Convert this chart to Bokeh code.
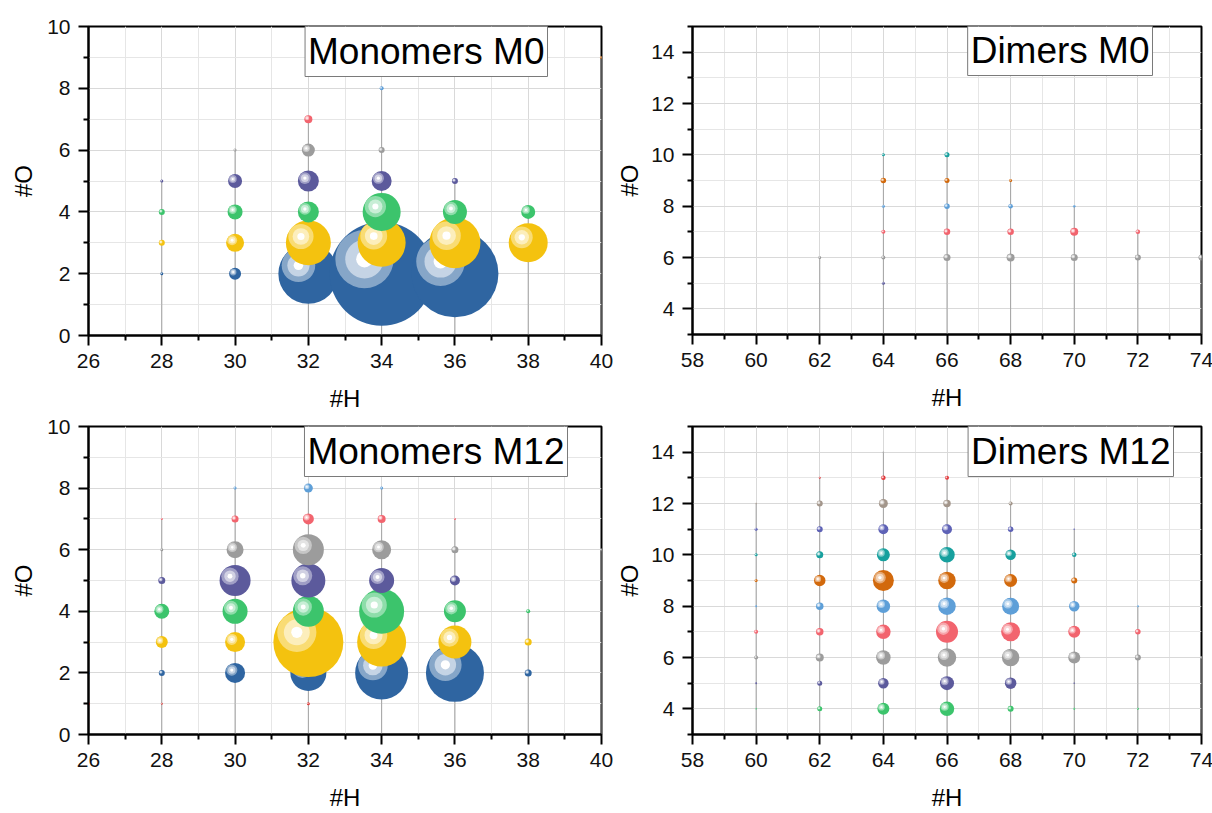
import numpy as np
from bokeh.plotting import figure
from bokeh.models import Label, Range1d, FixedTicker
from bokeh.layouts import gridplot
from bokeh.embed import file_html
from bokeh.resources import INLINE

# ---------------- data: #H, #O, relative signal (a.u.) ----------------
# Monomers M0
mono_m0_H = [28, 28, 28, 28,
             30, 30, 30, 30, 30,
             32, 32, 32, 32, 32, 32,
             34, 34, 34, 34, 34, 34,
             36, 36, 36, 36,
             38, 38,
             40]
mono_m0_O = [2, 3, 4, 5,
             2, 3, 4, 5, 6,
             2, 3, 4, 5, 6, 7,
             2, 3, 4, 5, 6, 8,
             2, 3, 4, 5,
             3, 4,
             9]
mono_m0_I = [0.3, 0.6, 0.6, 0.3,
             1.2, 1.8, 1.5, 1.4, 0.3,
             6.0, 4.5, 2.1, 2.1, 1.3, 0.8,
             10.4, 4.8, 3.8, 2.0, 0.6, 0.4,
             8.7, 5.1, 2.4, 0.6,
             3.9, 1.4,
             0.3]

# Dimers M0
dim_m0_H = [62,
            64, 64, 64, 64, 64, 64,
            66, 66, 66, 66, 66,
            68, 68, 68, 68,
            70, 70, 70,
            72, 72,
            74]
dim_m0_O = [6,
            5, 6, 7, 8, 9, 10,
            6, 7, 8, 9, 10,
            6, 7, 8, 9,
            6, 7, 8,
            6, 7,
            6]
dim_m0_I = [0.3,
            0.3, 0.4, 0.4, 0.3, 0.55, 0.3,
            0.7, 0.65, 0.55, 0.5, 0.5,
            0.8, 0.65, 0.45, 0.3,
            0.7, 0.8, 0.25,
            0.6, 0.45,
            0.6]

# Monomers M12
mono_m12_H = [26, 26, 26, 26,
              28, 28, 28, 28, 28, 28, 28,
              30, 30, 30, 30, 30, 30, 30,
              32, 32, 32, 32, 32, 32, 32, 32,
              34, 34, 34, 34, 34, 34, 34,
              36, 36, 36, 36, 36, 36,
              38, 38, 38,
              40]
mono_m12_O = [1, 2, 3, 4,
              1, 2, 3, 4, 5, 6, 7,
              2, 3, 4, 5, 6, 7, 8,
              1, 2, 3, 4, 5, 6, 7, 8,
              2, 3, 4, 5, 6, 7, 8,
              2, 3, 4, 5, 6, 7,
              2, 3, 4,
              6]
mono_m12_I = [0.3, 0.3, 0.3, 0.3,
              0.2, 0.6, 1.2, 1.5, 0.7, 0.3, 0.2,
              2.0, 2.0, 2.5, 3.1, 1.7, 0.7, 0.3,
              0.3, 3.6, 7.0, 3.1, 3.4, 3.1, 1.1, 0.9,
              5.3, 4.9, 4.5, 2.5, 1.9, 0.8, 0.3,
              5.8, 3.3, 2.2, 1.0, 0.7, 0.2,
              0.7, 0.7, 0.4,
              0.3]

# Dimers M12
dim_m12_H = [60, 60, 60, 60, 60, 60, 60, 60, 60,
             62, 62, 62, 62, 62, 62, 62, 62, 62, 62,
             64, 64, 64, 64, 64, 64, 64, 64, 64, 64, 64,
             66, 66, 66, 66, 66, 66, 66, 66, 66, 66,
             68, 68, 68, 68, 68, 68, 68, 68, 68,
             70, 70, 70, 70, 70, 70, 70, 70,
             72, 72, 72, 72,
             74]
dim_m12_O = [4, 5, 6, 7, 8, 9, 10, 11, 12,
             4, 5, 6, 7, 8, 9, 10, 11, 12, 13,
             4, 5, 6, 7, 8, 9, 10, 11, 12, 13, 14,
             4, 5, 6, 7, 8, 9, 10, 11, 12, 13,
             4, 5, 6, 7, 8, 9, 10, 11, 12,
             4, 5, 6, 7, 8, 9, 10, 11,
             4, 6, 7, 8,
             6]
dim_m12_I = [0.15, 0.2, 0.4, 0.4, 0.2, 0.3, 0.3, 0.3, 0.15,
             0.5, 0.5, 0.8, 0.75, 0.75, 1.15, 0.7, 0.6, 0.6, 0.2,
             1.2, 1.05, 1.45, 1.45, 1.35, 2.1, 1.3, 1.0, 0.9, 0.45, 0.15,
             1.45, 1.4, 1.85, 2.2, 1.75, 1.75, 1.55, 1.0, 0.75, 0.4,
             0.6, 1.15, 1.75, 1.9, 1.7, 1.3, 1.05, 0.55, 0.4,
             0.2, 0.15, 1.2, 1.2, 1.05, 0.6, 0.45, 0.15,
             0.2, 0.6, 0.55, 0.2,
             0.3]

titles = ["Monomers M0", "Dimers M0", "Monomers M12", "Dimers M12"]
mono_x_ticks = [26, 28, 30, 32, 34, 36, 38, 40]
dim_x_ticks = [58, 60, 62, 64, 66, 68, 70, 72, 74]
mono_y_ticks = [0, 2, 4, 6, 8, 10]
dim_y_ticks = [4, 6, 8, 10, 12, 14]

# ---------------- styling ----------------
O_COLORS = {1: "#e0403f", 2: "#2f65a1", 3: "#f4c20f", 4: "#3cc46c", 5: "#5c5a9c",
            6: "#9c9c9c", 7: "#f2646e", 8: "#5e9fd8", 9: "#d2690c", 10: "#17a09e",
            11: "#5e62b6", 12: "#a3968b", 13: "#e2383b", 14: "#a0a0a0"}
SIZE_SCALE = 10.0  # px of bubble diameter per signal unit
LAYERS = [(0.56, 0.42), (0.37, 0.72), (0.16, 1.0)]
FONT = "Liberation Sans"


def mix(hexc, f):
    h = hexc.lstrip("#")
    r, g, b = int(h[0:2], 16), int(h[2:4], 16), int(h[4:6], 16)
    r = round(r + (255 - r) * f)
    g = round(g + (255 - g) * f)
    b = round(b + (255 - b) * f)
    return "#%02x%02x%02x" % (r, g, b)


def panel(H, O, I, xr, yr, xt, yt, title, fw, fh, mbl, mbr, mbt, mbb,
          box_dx, box_dy, y_ax_stand):
    p = figure(frame_width=fw, frame_height=fh,
               x_range=Range1d(*xr), y_range=Range1d(*yr),
               output_backend="svg", toolbar_location=None,
               min_border_left=mbl, min_border_right=mbr,
               min_border_top=mbt, min_border_bottom=mbb,
               background_fill_color="white", border_fill_color="white",
               outline_line_color="black", outline_line_width=2)
    xminor = [t + (xt[1] - xt[0]) / 2 for t in xt[:-1]]
    yminor = [t + (yt[1] - yt[0]) / 2 for t in [yt[0] - (yt[1] - yt[0])] + yt]
    p.xaxis.ticker = FixedTicker(ticks=xt, minor_ticks=xminor)
    p.yaxis.ticker = FixedTicker(ticks=yt, minor_ticks=yminor)
    for ax in (p.xaxis[0], p.yaxis[0]):
        ax.axis_line_color = "black"
        ax.axis_line_width = 2
        ax.major_tick_line_color = "black"
        ax.major_tick_line_width = 2
        ax.major_tick_in = 0
        ax.major_tick_out = 10
        ax.minor_tick_line_color = "black"
        ax.minor_tick_line_width = 2
        ax.minor_tick_in = 0
        ax.minor_tick_out = 5
        ax.major_label_text_font = FONT
        ax.major_label_text_font_size = "21px"
        ax.major_label_text_color = "#111111"
        ax.axis_label_text_font = FONT
        ax.axis_label_text_font_size = "24px"
        ax.axis_label_text_font_style = "normal"
        ax.axis_label_text_color = "black"
    p.xaxis.axis_label = "#H"
    p.yaxis.axis_label = "#O"
    p.xaxis.major_label_standoff = 8
    p.xaxis.axis_label_standoff = 14
    p.yaxis.major_label_standoff = 8
    p.yaxis.axis_label_standoff = y_ax_stand
    for g in (p.xgrid[0], p.ygrid[0]):
        g.grid_line_color = "#d9d9d9"
        g.grid_line_width = 1
        g.minor_grid_line_color = "#e6e6e6"
        g.minor_grid_line_width = 1

    kx = fw / (xr[1] - xr[0])
    ky = fh / (yr[1] - yr[0])

    # drop lines from the axis to the highest #O at each #H
    top = {}
    for h, o in zip(H, O):
        top[h] = max(top.get(h, -1e9), o)
    hs = sorted(top)
    p.segment(x0=hs, y0=[yr[0]] * len(hs), x1=hs, y1=[top[h] for h in hs],
              line_color="#a3a3a3", line_width=1)

    # spheres, drawn by #O group (higher #O on top)
    groups = {}
    for i in sorted(range(len(H)), key=lambda i: (O[i], H[i])):
        groups.setdefault(O[i], []).append(i)
    for o in sorted(groups):
        idx = groups[o]
        xs = np.array([H[i] for i in idx], float)
        ys = np.array([O[i] for i in idx], float)
        d = np.array([I[i] for i in idx], float) * SIZE_SCALE
        col = O_COLORS[o]
        p.scatter(xs, ys, size=d, marker="circle", fill_color=col, line_color=None)
        r = d / 2
        hx = xs - 0.33 * r / kx
        hy = ys + 0.28 * r / ky
        for frac, f in LAYERS:
            p.scatter(hx, hy, size=d * frac, marker="circle",
                      fill_color=mix(col, f), line_color=None)

    lab = Label(x=xr[1] - box_dx / kx, y=yr[1] - box_dy / ky, text=title,
                anchor="top_right", text_font=FONT, text_font_size="37px",
                text_color="black", background_fill_color="white",
                border_line_color="#7a7a7a", border_line_width=1,
                padding=dict(x=3, y=5))
    p.add_layout(lab)
    return p


p1 = panel(mono_m0_H, mono_m0_O, mono_m0_I, (26, 40), (0, 10), mono_x_ticks, mono_y_ticks,
           titles[0], 513, 309, 88, 12, 25, 80, 54, -1, 7)
p2 = panel(dim_m0_H, dim_m0_O, dim_m0_I, (58, 74), (3, 15), dim_x_ticks, dim_y_ticks,
           titles[1], 509, 308, 76, 12, 26, 80, 49, -2, 5)
p3 = panel(mono_m12_H, mono_m12_O, mono_m12_I, (26, 40), (0, 10), mono_x_ticks, mono_y_ticks,
           titles[2], 513, 308, 88, 12, 12, 77, 34, -1, 7)
p4 = panel(dim_m12_H, dim_m12_O, dim_m12_I, (58, 74), (3, 15), dim_x_ticks, dim_y_ticks,
           titles[3], 509, 308, 76, 12, 12, 77, 28, -1, 5)

grid = gridplot([[p1, p2], [p3, p4]], toolbar_location=None)
open("out.html", "w").write(file_html(grid, INLINE))
